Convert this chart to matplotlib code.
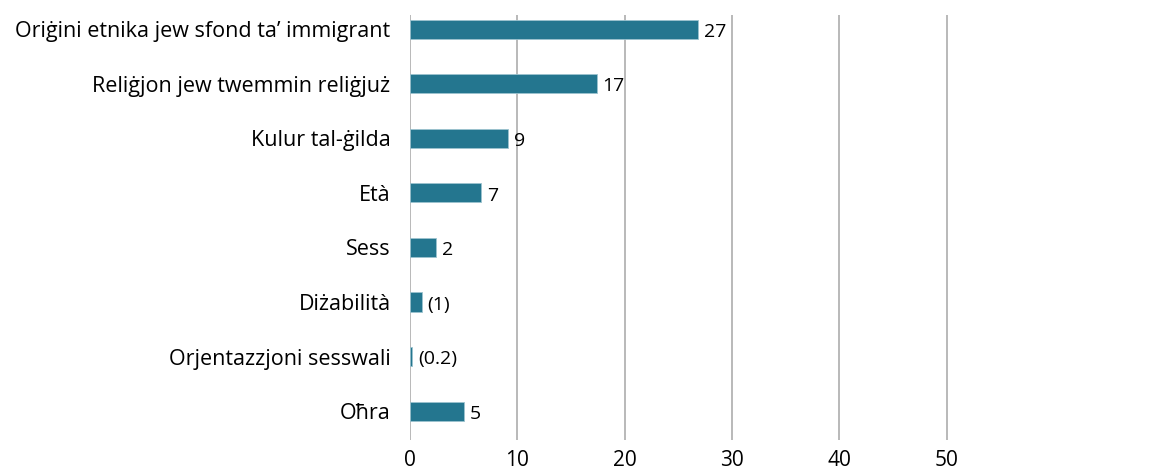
import matplotlib
matplotlib.use("Agg")
import matplotlib.pyplot as plt

# categories top to bottom
categories = [
    "Oriġini etnika jew sfond ta’ immigrant",
    "Reliġjon jew twemmin reliġjuż",
    "Kulur tal-ġilda",
    "Età",
    "Sess",
    "Diżabilità",
    "Orjentazzjoni sesswali",
    "Oħra",
]
values = [26.8, 17.4, 9.1, 6.6, 2.4, 1.1, 0.2, 5.0]
value_labels = ["27", "17", "9", "7", "2", "(1)", "(0.2)", "5"]
xticks = [0, 10, 20, 30, 40, 50]

plt.rcParams['font.family'] = ['Open Sans', 'DejaVu Sans']

fig = plt.figure(figsize=(11.65, 4.72), dpi=100)
ax = fig.add_axes([410 / 1165, 1 - 440 / 472, 644 / 1165, 425 / 472])

pos = list(range(len(categories)))
ax.barh(pos, values, height=0.35, color="#24768F", edgecolor="#9cc3cf",
        linewidth=0.6, zorder=3)
for p, v, lab in zip(pos, values, value_labels):
    ax.text(v + 0.55, p + 0.05, lab, va="center", ha="left", fontsize=14,
            color="black")

ax.set_xlim(0, 60)
ax.set_ylim(7.53, -0.26)
ax.set_xticks(xticks)
ax.set_yticks(pos)
ax.set_yticklabels(categories)
ax.tick_params(axis="both", length=0, labelsize=15.5)
ax.tick_params(axis="y", pad=14)
ax.tick_params(axis="x", pad=7, labelsize=15)
for x in xticks:
    ax.axvline(x, color="#a6a6a6", linewidth=1.1, zorder=1)
for s in ax.spines.values():
    s.set_visible(False)

fig.savefig("out.png", dpi=100)
